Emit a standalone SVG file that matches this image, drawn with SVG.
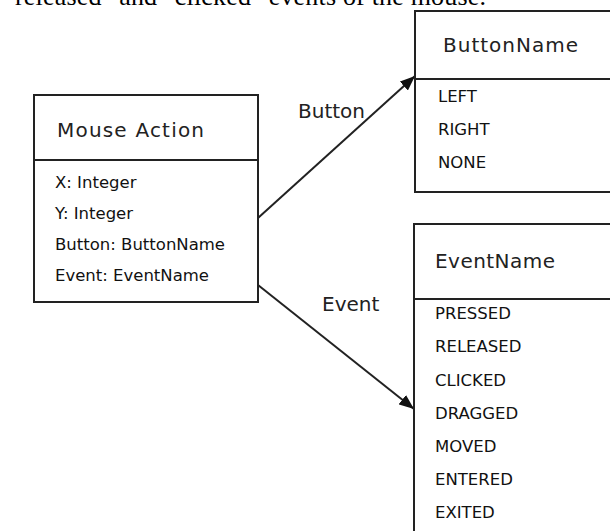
<svg xmlns="http://www.w3.org/2000/svg" width="610" height="531" viewBox="0 0 610 531">
<defs>
<marker id="arrow" markerUnits="userSpaceOnUse" markerWidth="16" markerHeight="12" refX="15" refY="6" orient="auto"><path d="M0,0 L15,6 L0,12 z" fill="#111"/></marker>
</defs>
<style>
.box{fill:#fff;stroke:#222;stroke-width:2}
.sep{stroke:#222;stroke-width:2}
.title{font-family:"DejaVu Sans",sans-serif;font-size:20px;fill:#222}
.item{font-family:"DejaVu Sans",sans-serif;font-size:16.5px;fill:#111}
.lbl{font-family:"DejaVu Sans",sans-serif;font-size:20px;fill:#222}
.conn{stroke:#222;stroke-width:2;fill:none}
.doc{font-family:"Liberation Serif",serif;font-size:26px;fill:#000}
</style>
<rect width="610" height="531" fill="#fff"/>
<text class="doc" x="15" y="5" textLength="471" lengthAdjust="spacing">released" and "clicked" events of the mouse.</text>
<g id="connectors">
<line class="conn" x1="258" y1="218" x2="415" y2="76" marker-end="url(#arrow)"/>
<line class="conn" x1="258" y1="285" x2="414" y2="409" marker-end="url(#arrow)"/>
<text class="lbl" x="298" y="118">Button</text>
<text class="lbl" x="322" y="311">Event</text>
</g>
<g id="mouse-action">
<rect class="box" x="34" y="95" width="224" height="207"/>
<line class="sep" x1="34" y1="160" x2="258" y2="160"/>
<text class="title" x="57" y="137" textLength="147" lengthAdjust="spacing">Mouse Action</text>
<text class="item" x="55" y="188">X: Integer</text>
<text class="item" x="55" y="219">Y: Integer</text>
<text class="item" x="55" y="250">Button: ButtonName</text>
<text class="item" x="55" y="281">Event: EventName</text>
</g>
<g id="button-name">
<rect class="box" x="415" y="11" width="210" height="181"/>
<line class="sep" x1="415" y1="79" x2="612" y2="79"/>
<text class="title" x="443" y="52" textLength="135" lengthAdjust="spacing">ButtonName</text>
<text class="item" x="438" y="102">LEFT</text>
<text class="item" x="438" y="135">RIGHT</text>
<text class="item" x="438" y="167.5">NONE</text>
</g>
<g id="event-name">
<rect class="box" x="414" y="224" width="210" height="320"/>
<line class="sep" x1="414" y1="299" x2="612" y2="299"/>
<text class="title" x="435" y="268" textLength="120" lengthAdjust="spacing">EventName</text>
<text class="item" x="435" y="319">PRESSED</text>
<text class="item" x="435" y="352">RELEASED</text>
<text class="item" x="435" y="385.5">CLICKED</text>
<text class="item" x="435" y="418.5">DRAGGED</text>
<text class="item" x="435" y="451.5">MOVED</text>
<text class="item" x="435" y="484.5">ENTERED</text>
<text class="item" x="435" y="518">EXITED</text>
</g>
</svg>
